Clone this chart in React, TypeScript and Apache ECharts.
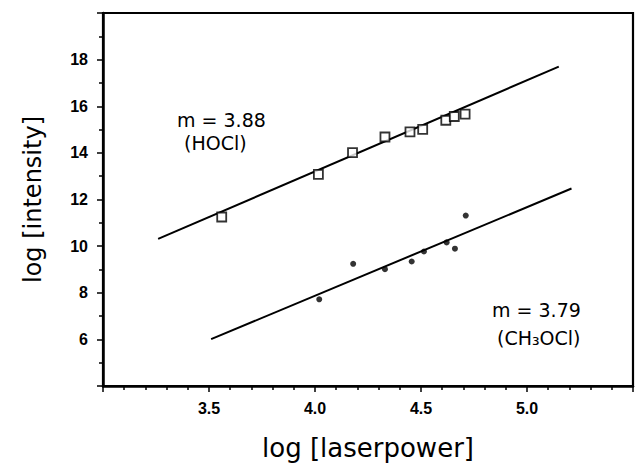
import React, { useEffect, useRef } from "react";
import * as echarts from "echarts";

// HOCl data (open squares)
const hoclX = [3.56, 4.016, 4.177, 4.33, 4.448, 4.508, 4.617, 4.657, 4.708];
const hoclY = [11.25, 13.08, 14.01, 14.68, 14.9, 15.01, 15.4, 15.56, 15.66];
// CH3OCl data (filled dots)
const ch3oclX = [4.02, 4.18, 4.33, 4.456, 4.514, 4.621, 4.66, 4.711];
const ch3oclY = [7.72, 9.24, 9.01, 9.34, 9.77, 10.16, 9.89, 11.31];
// fitted lines (end points)
const hoclFitX = [3.26, 5.15];
const hoclFitY = [10.31, 17.7];
const ch3oclFitX = [3.51, 5.21];
const ch3oclFitY = [6.01, 12.47];

const xTickLabels = ["3.5", "4.0", "4.5", "5.0"];
const yTickLabels = ["6", "8", "10", "12", "14", "16", "18"];

const annotations = [
  { text: "m = 3.88", x: 177, y: 120 },
  { text: "(HOCl)", x: 184, y: 143 },
  { text: "m = 3.79", x: 492, y: 310 },
  { text: "(CH₃OCl)", x: 497, y: 338 },
];

const zip = (a: number[], b: number[]) => a.map((v, i) => [v, b[i]]);

export default function App() {
  const ref = useRef<HTMLDivElement>(null);
  useEffect(() => {
    if (!ref.current) return;
    const chart = echarts.init(ref.current, undefined, { renderer: "svg" });
    const tickFont = {
      color: "#000",
      fontFamily: "Liberation Sans",
      fontWeight: "bold" as const,
      fontSize: 16,
    };
    chart.setOption({
      animation: false,
      backgroundColor: "#fff",
      grid: {
        left: 103,
        top: 13,
        width: 530,
        height: 373,
        show: true,
        borderColor: "#000",
        borderWidth: 2.2,
        backgroundColor: "transparent",
      },
      xAxis: {
        type: "value",
        min: 3.0,
        max: 5.5,
        interval: 0.5,
        name: "log [laserpower]",
        nameLocation: "middle",
        nameGap: 49,
        nameTextStyle: { color: "#000", fontFamily: "DejaVu Sans", fontSize: 26 },
        axisLine: { show: true, onZero: false, lineStyle: { color: "#000", width: 2.5 } },
        axisTick: { show: true, length: 6, lineStyle: { color: "#000", width: 1.5 } },
        minorTick: { show: true, splitNumber: 5, length: 4, lineStyle: { color: "#000", width: 1.5 } },
        splitLine: { show: false },
        axisLabel: {
          ...tickFont,
          margin: 14,
          formatter: (v: number) => {
            const s = v.toFixed(1);
            return xTickLabels.includes(s) ? s : "";
          },
        },
      },
      yAxis: {
        type: "value",
        min: 4,
        max: 20,
        interval: 2,
        name: "log [intensity]",
        nameLocation: "middle",
        nameGap: 58,
        nameTextStyle: { color: "#000", fontFamily: "DejaVu Sans", fontSize: 24 },
        axisLine: { show: true, onZero: false, lineStyle: { color: "#000", width: 2.5 } },
        axisTick: { show: true, length: 6, lineStyle: { color: "#000", width: 1.5 } },
        minorTick: { show: true, splitNumber: 2, length: 4, lineStyle: { color: "#000", width: 1.5 } },
        splitLine: { show: false },
        axisLabel: {
          ...tickFont,
          margin: 15,
          formatter: (v: number) => {
            const s = String(Math.round(v));
            return yTickLabels.includes(s) ? s : "";
          },
        },
      },
      series: [
        {
          type: "line",
          data: zip(hoclFitX, hoclFitY),
          symbol: "none",
          lineStyle: { color: "#000", width: 2 },
          z: 2,
        },
        {
          type: "line",
          data: zip(ch3oclFitX, ch3oclFitY),
          symbol: "none",
          lineStyle: { color: "#000", width: 2 },
          z: 2,
        },
        {
          type: "scatter",
          data: zip(hoclX, hoclY),
          symbol: "rect",
          symbolSize: 9,
          itemStyle: { color: "#fff", borderColor: "#000", borderWidth: 1.8 },
          z: 3,
        },
        {
          type: "scatter",
          data: zip(ch3oclX, ch3oclY),
          symbol: "circle",
          symbolSize: 6,
          itemStyle: { color: "#000" },
          z: 3,
        },
      ],
      graphic: annotations.map((a) => ({
        type: "text",
        x: a.x,
        y: a.y,
        style: {
          text: a.text,
          fill: "#000",
          fontFamily: "DejaVu Sans",
          fontSize: 19,
          align: "left",
          verticalAlign: "middle",
        },
      })),
    });
    return () => chart.dispose();
  }, []);
  return (
    <div
      ref={ref}
      style={{ position: "fixed", left: 0, top: 0, width: 636, height: 468, background: "#fff" }}
    />
  );
}
